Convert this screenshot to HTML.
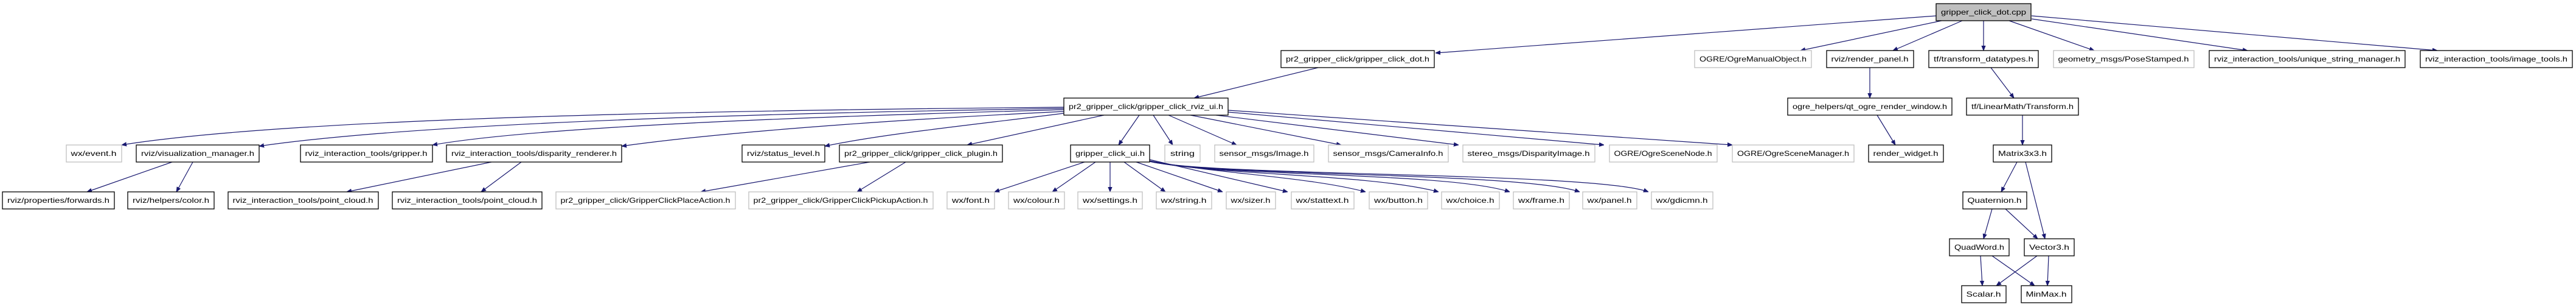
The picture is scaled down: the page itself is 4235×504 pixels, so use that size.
<!DOCTYPE html>
<html><head><meta charset="utf-8"><style>
html,body{margin:0;padding:0;background:#fff;width:4235px;height:504px;overflow:hidden}
svg{display:block}
text{font-family:"Liberation Sans","DejaVu Sans",sans-serif;font-size:12px;fill:#000;text-anchor:middle}
.b{fill:#fff;stroke:#000;stroke-width:1.3}
.g{fill:#fff;stroke:#bfbfbf;stroke-width:1.3}
.t{fill:#bfbfbf;stroke:#000;stroke-width:1.3}
path{fill:none;stroke:#191970;stroke-width:1.2}
</style></head><body>
<svg width="4235" height="504" viewBox="0 0 4235 504" xmlns="http://www.w3.org/2000/svg">
<defs><marker id="a" viewBox="0 0 10 10" refX="10" refY="5" markerWidth="8" markerHeight="8" orient="auto" markerUnits="userSpaceOnUse"><path d="M0,1 L10,5 L0,9 z" style="fill:#191970;stroke:#191970;stroke-width:1"/></marker></defs>
<g marker-end="url(#a)">
<path d="M3183,26 L2360,87"/>
<path d="M3192,34 L2960,83"/>
<path d="M3226,34 L3112,83"/>
<path d="M3261,34 L3261,83"/>
<path d="M3303,34 L3443,83"/>
<path d="M3340,31 L3695,83"/>
<path d="M3340,26 L4007,83"/>
<path d="M2167,111 L1963,161"/>
<path d="M3074,111 L3074,161"/>
<path d="M3273,111 L3311,161"/>
<path d="M3086,189 L3116,238"/>
<path d="M3325,189 L3325,238"/>
<path d="M3316,266 L3290,315"/>
<path d="M3330,266 L3362,392"/>
<path d="M3275,343 L3261,392"/>
<path d="M3297,343 L3350,392"/>
<path d="M3256,420 L3259,469"/>
<path d="M3275,420 L3345,469"/>
<path d="M3349,420 L3282,469"/>
<path d="M3368,420 L3366,469"/>
<path d="M1749,176 C1300,180 500,190 200,238"/>
<path d="M1749,178 C1300,185 700,200 426,240"/>
<path d="M1749,180 C1400,190 900,205 711,238"/>
<path d="M1749,183 C1500,195 1200,215 1022,240"/>
<path d="M1749,186 C1600,205 1450,220 1356,240"/>
<path d="M1815,189 L1590,238"/>
<path d="M1873,189 L1839,238"/>
<path d="M1896,189 L1928,238"/>
<path d="M1921,189 L2033,238"/>
<path d="M1957,189 L2205,238"/>
<path d="M1999,189 L2398,238"/>
<path d="M2019,184 L2637,238"/>
<path d="M2019,181 L2848,238"/>
<path d="M283,266 L143,315"/>
<path d="M317,266 L290,315"/>
<path d="M808,266 L570,315"/>
<path d="M857,266 L791,315"/>
<path d="M1430,266 L1152,315"/>
<path d="M1489,266 L1409,315"/>
<path d="M1783,266 L1635,315"/>
<path d="M1801,266 L1730,315"/>
<path d="M1825,266 L1825,315"/>
<path d="M1848,266 L1916,315"/>
<path d="M1868,266 L2010,315"/>
<path d="M1890,262 L2117,315"/>
<path d="M1890,264 C2000,285 2150,290 2245,315"/>
<path d="M1890,265 C2000,288 2250,285 2365,315"/>
<path d="M1890,265 C2000,290 2380,282 2482,315"/>
<path d="M1890,265 C2000,290 2500,282 2597,315"/>
<path d="M1890,265 C2000,290 2620,282 2710,315"/>
</g>
<rect class="t" x="3183" y="6" width="156" height="28"/><text x="3261" y="24" textLength="140" lengthAdjust="spacingAndGlyphs">gripper_click_dot.cpp</text>
<rect class="b" x="2106" y="83" width="252" height="28"/><text x="2232" y="101" textLength="236" lengthAdjust="spacingAndGlyphs">pr2_gripper_click/gripper_click_dot.h</text>
<rect class="g" x="2786" y="83" width="192" height="28"/><text x="2882" y="101" textLength="176" lengthAdjust="spacingAndGlyphs">OGRE/OgreManualObject.h</text>
<rect class="b" x="3003" y="83" width="143" height="28"/><text x="3074" y="101" textLength="127" lengthAdjust="spacingAndGlyphs">rviz/render_panel.h</text>
<rect class="b" x="3171" y="83" width="180" height="28"/><text x="3261" y="101" textLength="164" lengthAdjust="spacingAndGlyphs">tf/transform_datatypes.h</text>
<rect class="g" x="3376" y="83" width="231" height="28"/><text x="3491" y="101" textLength="215" lengthAdjust="spacingAndGlyphs">geometry_msgs/PoseStamped.h</text>
<rect class="b" x="3632" y="83" width="322" height="28"/><text x="3793" y="101" textLength="306" lengthAdjust="spacingAndGlyphs">rviz_interaction_tools/unique_string_manager.h</text>
<rect class="b" x="3979" y="83" width="250" height="28"/><text x="4104" y="101" textLength="234" lengthAdjust="spacingAndGlyphs">rviz_interaction_tools/image_tools.h</text>
<rect class="b" x="1749" y="161" width="270" height="28"/><text x="1884" y="179" textLength="254" lengthAdjust="spacingAndGlyphs">pr2_gripper_click/gripper_click_rviz_ui.h</text>
<rect class="b" x="2939" y="161" width="270" height="28"/><text x="3074" y="179" textLength="254" lengthAdjust="spacingAndGlyphs">ogre_helpers/qt_ogre_render_window.h</text>
<rect class="b" x="3233" y="161" width="184" height="28"/><text x="3325" y="179" textLength="168" lengthAdjust="spacingAndGlyphs">tf/LinearMath/Transform.h</text>
<rect class="g" x="109" y="238" width="91" height="28"/><text x="154" y="256" textLength="75" lengthAdjust="spacingAndGlyphs">wx/event.h</text>
<rect class="b" x="224" y="238" width="202" height="28"/><text x="325" y="256" textLength="186" lengthAdjust="spacingAndGlyphs">rviz/visualization_manager.h</text>
<rect class="b" x="494" y="238" width="217" height="28"/><text x="602" y="256" textLength="201" lengthAdjust="spacingAndGlyphs">rviz_interaction_tools/gripper.h</text>
<rect class="b" x="734" y="238" width="288" height="28"/><text x="878" y="256" textLength="272" lengthAdjust="spacingAndGlyphs">rviz_interaction_tools/disparity_renderer.h</text>
<rect class="b" x="1220" y="238" width="136" height="28"/><text x="1288" y="256" textLength="120" lengthAdjust="spacingAndGlyphs">rviz/status_level.h</text>
<rect class="b" x="1380" y="238" width="268" height="28"/><text x="1514" y="256" textLength="252" lengthAdjust="spacingAndGlyphs">pr2_gripper_click/gripper_click_plugin.h</text>
<rect class="b" x="1760" y="238" width="130" height="28"/><text x="1825" y="256" textLength="114" lengthAdjust="spacingAndGlyphs">gripper_click_ui.h</text>
<rect class="g" x="1915" y="238" width="58" height="28"/><text x="1944" y="256" textLength="40" lengthAdjust="spacingAndGlyphs">string</text>
<rect class="g" x="1997" y="238" width="163" height="28"/><text x="2078" y="256" textLength="147" lengthAdjust="spacingAndGlyphs">sensor_msgs/Image.h</text>
<rect class="g" x="2184" y="238" width="197" height="28"/><text x="2282" y="256" textLength="181" lengthAdjust="spacingAndGlyphs">sensor_msgs/CameraInfo.h</text>
<rect class="g" x="2405" y="238" width="217" height="28"/><text x="2513" y="256" textLength="201" lengthAdjust="spacingAndGlyphs">stereo_msgs/DisparityImage.h</text>
<rect class="g" x="2646" y="238" width="177" height="28"/><text x="2734" y="256" textLength="161" lengthAdjust="spacingAndGlyphs">OGRE/OgreSceneNode.h</text>
<rect class="g" x="2848" y="238" width="200" height="28"/><text x="2948" y="256" textLength="184" lengthAdjust="spacingAndGlyphs">OGRE/OgreSceneManager.h</text>
<rect class="b" x="3072" y="238" width="123" height="28"/><text x="3133" y="256" textLength="107" lengthAdjust="spacingAndGlyphs">render_widget.h</text>
<rect class="b" x="3277" y="238" width="96" height="28"/><text x="3325" y="256" textLength="80" lengthAdjust="spacingAndGlyphs">Matrix3x3.h</text>
<rect class="b" x="4" y="315" width="184" height="28"/><text x="96" y="333" textLength="168" lengthAdjust="spacingAndGlyphs">rviz/properties/forwards.h</text>
<rect class="b" x="210" y="315" width="142" height="28"/><text x="281" y="333" textLength="126" lengthAdjust="spacingAndGlyphs">rviz/helpers/color.h</text>
<rect class="b" x="375" y="315" width="247" height="28"/><text x="498" y="333" textLength="231" lengthAdjust="spacingAndGlyphs">rviz_interaction_tools/point_cloud.h</text>
<rect class="b" x="645" y="315" width="246" height="28"/><text x="768" y="333" textLength="230" lengthAdjust="spacingAndGlyphs">rviz_interaction_tools/point_cloud.h</text>
<rect class="g" x="914" y="315" width="295" height="28"/><text x="1061" y="333" textLength="279" lengthAdjust="spacingAndGlyphs">pr2_gripper_click/GripperClickPlaceAction.h</text>
<rect class="g" x="1231" y="315" width="303" height="28"/><text x="1382" y="333" textLength="287" lengthAdjust="spacingAndGlyphs">pr2_gripper_click/GripperClickPickupAction.h</text>
<rect class="g" x="1557" y="315" width="78" height="28"/><text x="1596" y="333" textLength="62" lengthAdjust="spacingAndGlyphs">wx/font.h</text>
<rect class="g" x="1658" y="315" width="92" height="28"/><text x="1704" y="333" textLength="76" lengthAdjust="spacingAndGlyphs">wx/colour.h</text>
<rect class="g" x="1772" y="315" width="106" height="28"/><text x="1825" y="333" textLength="90" lengthAdjust="spacingAndGlyphs">wx/settings.h</text>
<rect class="g" x="1901" y="315" width="91" height="28"/><text x="1946" y="333" textLength="75" lengthAdjust="spacingAndGlyphs">wx/string.h</text>
<rect class="g" x="2016" y="315" width="81" height="28"/><text x="2056" y="333" textLength="65" lengthAdjust="spacingAndGlyphs">wx/sizer.h</text>
<rect class="g" x="2123" y="315" width="103" height="28"/><text x="2174" y="333" textLength="87" lengthAdjust="spacingAndGlyphs">wx/stattext.h</text>
<rect class="g" x="2251" y="315" width="96" height="28"/><text x="2299" y="333" textLength="80" lengthAdjust="spacingAndGlyphs">wx/button.h</text>
<rect class="g" x="2370" y="315" width="95" height="28"/><text x="2417" y="333" textLength="79" lengthAdjust="spacingAndGlyphs">wx/choice.h</text>
<rect class="g" x="2488" y="315" width="92" height="28"/><text x="2534" y="333" textLength="76" lengthAdjust="spacingAndGlyphs">wx/frame.h</text>
<rect class="g" x="2602" y="315" width="89" height="28"/><text x="2646" y="333" textLength="73" lengthAdjust="spacingAndGlyphs">wx/panel.h</text>
<rect class="g" x="2715" y="315" width="101" height="28"/><text x="2765" y="333" textLength="85" lengthAdjust="spacingAndGlyphs">wx/gdicmn.h</text>
<rect class="b" x="3227" y="315" width="105" height="28"/><text x="3279" y="333" textLength="89" lengthAdjust="spacingAndGlyphs">Quaternion.h</text>
<rect class="b" x="3205" y="392" width="98" height="28"/><text x="3254" y="410" textLength="82" lengthAdjust="spacingAndGlyphs">QuadWord.h</text>
<rect class="b" x="3328" y="392" width="82" height="28"/><text x="3369" y="410" textLength="66" lengthAdjust="spacingAndGlyphs">Vector3.h</text>
<rect class="b" x="3225" y="469" width="73" height="28"/><text x="3261" y="487" textLength="57" lengthAdjust="spacingAndGlyphs">Scalar.h</text>
<rect class="b" x="3323" y="469" width="83" height="28"/><text x="3364" y="487" textLength="67" lengthAdjust="spacingAndGlyphs">MinMax.h</text>
</svg>
</body></html>
